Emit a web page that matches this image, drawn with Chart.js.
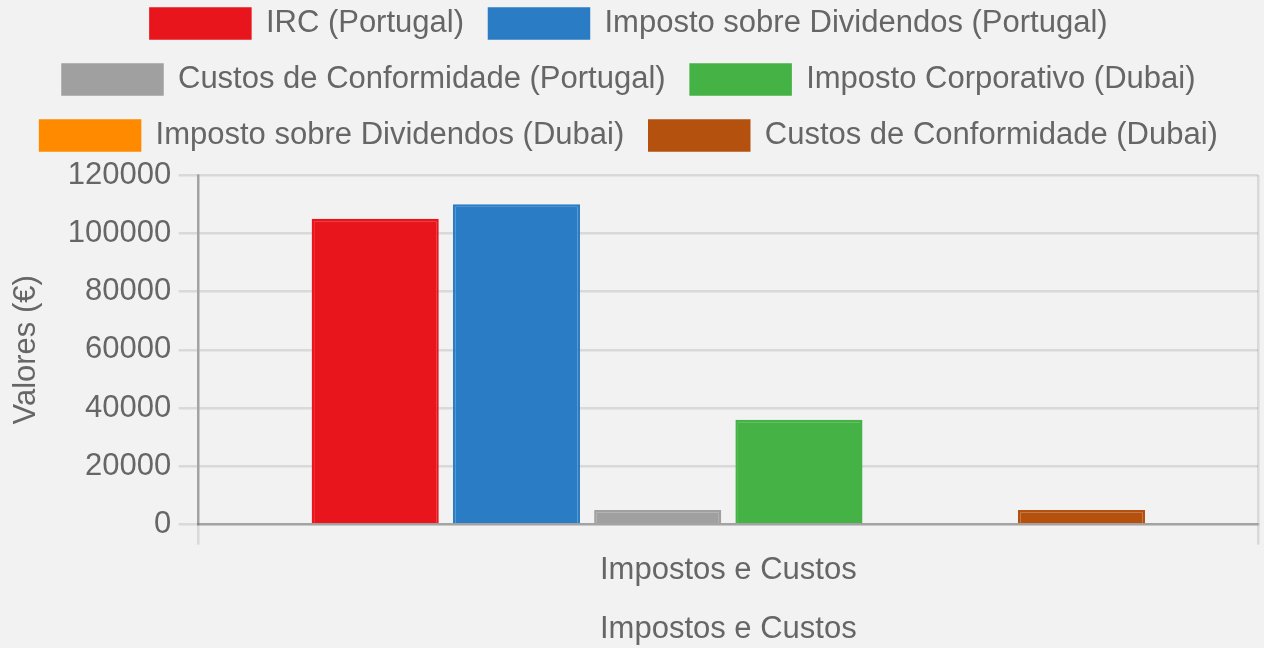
<!DOCTYPE html>
<html>
<head>
<meta charset="utf-8">
<script src="https://cdn.jsdelivr.net/npm/chart.js@4.4.0/dist/chart.umd.min.js"></script>
<style>
  html, body { margin: 0; padding: 0; background: #f2f2f2; }
  #wrap { width: 1264px; height: 648px; }
</style>
</head>
<body>
<div id="wrap"><canvas id="chart" width="1264" height="648"></canvas></div>
<script>
const categories = ["Impostos e Custos"];
const seriesNames = [
  "IRC (Portugal)",
  "Imposto sobre Dividendos (Portugal)",
  "Custos de Conformidade (Portugal)",
  "Imposto Corporativo (Dubai)",
  "Imposto sobre Dividendos (Dubai)",
  "Custos de Conformidade (Dubai)"
];
const seriesValues = [105000, 110000, 5000, 36000, 0, 5000];
const seriesColors = ["#e8161c", "#2a7cc4", "#a0a0a0", "#45b245", "#ff8a00", "#b4510f"];
const yTicks = [0, 20000, 40000, 60000, 80000, 100000, 120000];

const S = 2.5; // chart looks like the defaults blown up 2.5x
Chart.defaults.font.size = 31;
Chart.defaults.font.family = "'Liberation Sans', Arial, sans-serif";
Chart.defaults.color = "#666";

const datasets = seriesNames.map((name, i) => ({
  label: name,
  data: [seriesValues[i]],
  backgroundColor: seriesColors[i],
  borderColor: seriesColors[i],
  borderWidth: 1 * S
}));

// legend sits a bit higher in its box than chart.js puts it
const legendShift = {
  id: "legendShift",
  afterLayout(chart) {
    chart.legend.top -= 14;
    chart.legend.bottom -= 14;
  }
};

new Chart(document.getElementById("chart"), {
  type: "bar",
  data: { labels: categories, datasets },
  plugins: [legendShift],
  options: {
    responsive: false,
    animation: false,
    layout: { padding: { top: -3, right: 6 } },
    plugins: {
      legend: {
        labels: { boxWidth: 100, boxHeight: 30, padding: 25 }
      },
      tooltip: { enabled: false }
    },
    scales: {
      x: {
        grid: { lineWidth: 1 * S, tickLength: 8 * S, color: "rgba(0,0,0,0.1)" },
        border: { width: 1 * S, color: "rgba(0,0,0,0.25)" },
        ticks: { padding: 3 * S },
        title: { display: true, text: "Impostos e Custos", padding: { top: 14, bottom: 0 } }
      },
      y: {
        min: 0,
        max: yTicks[yTicks.length - 1],
        afterBuildTicks: axis => { axis.ticks = yTicks.map(v => ({ value: v })); },
        grid: { lineWidth: 1 * S, tickLength: 8 * S, color: "rgba(0,0,0,0.1)" },
        border: { width: 1 * S, color: "rgba(0,0,0,0.25)" },
        ticks: { padding: 3 * S, callback: v => String(v) },
        title: { display: true, text: "Valores (€)", padding: { top: 8, bottom: 15 } }
      }
    }
  }
});
</script>
</body>
</html>
